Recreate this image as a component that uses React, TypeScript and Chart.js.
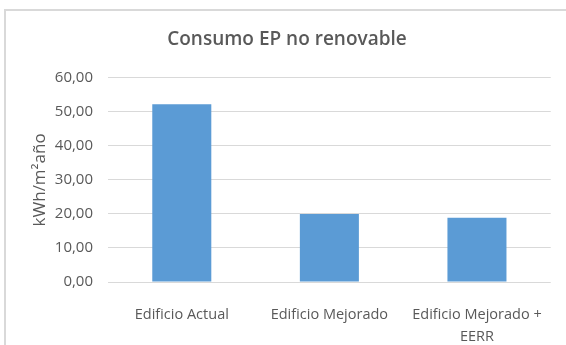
import React, { useEffect, useRef } from "react";
import { Chart, registerables } from "chart.js";

Chart.register(...registerables);

const categories: (string | string[])[] = [
  "Edificio Actual",
  "Edificio Mejorado",
  ["Edificio Mejorado +", "EERR"],
];
const consumo: number[] = [52.2, 20.0, 18.9];
const yTicks: number[] = [0, 10, 20, 30, 40, 50, 60];

const TEXT = "#595959";
const GRID = "#D9D9D9";
const BAR = "#5B9BD5";
const FONT = "'Open Sans', sans-serif";

const fmt = (v: number) => v.toFixed(2).replace(".", ",");

export default function App() {
  const ref = useRef<HTMLCanvasElement | null>(null);

  useEffect(() => {
    if (!ref.current) return;
    const chart = new Chart(ref.current, {
      type: "bar",
      data: {
        labels: categories,
        datasets: [
          {
            label: "Consumo EP no renovable",
            data: consumo,
            backgroundColor: BAR,
            borderWidth: 0,
            barPercentage: 0.5,
            categoryPercentage: 0.8,
          },
        ],
      },
      options: {
        responsive: false,
        animation: false,
        layout: { padding: { left: 22, right: 14, top: 0, bottom: 0 } },
        plugins: {
          legend: { display: false },
          tooltip: { enabled: false },
          title: {
            display: true,
            text: "Consumo EP no renovable",
            color: TEXT,
            font: { family: FONT, size: 19, weight: 600, lineHeight: 1.2 },
            padding: { top: 28, bottom: 27 },
          },
        },
        scales: {
          x: {
            grid: { display: false, drawTicks: false },
            border: { display: false },
            ticks: {
              color: TEXT,
              font: { family: FONT, size: 14.5, lineHeight: 1.5 },
              padding: 22,
              maxRotation: 0,
              autoSkip: false,
            },
            afterFit: (scale: any) => {
              scale.height = 63;
            },
          },
          y: {
            min: yTicks[0],
            max: yTicks[yTicks.length - 1],
            grid: { color: GRID, lineWidth: 1, drawTicks: false },
            border: { display: false },
            ticks: {
              stepSize: 10,
              color: TEXT,
              font: { family: FONT, size: 15 },
              padding: 15,
              callback: (v: any) => fmt(Number(v)),
            },
            title: {
              display: true,
              text: "kWh/m²año",
              color: TEXT,
              font: { family: FONT, size: 17, lineHeight: 1.2 },
              padding: { top: 8, bottom: 0 },
            },
            afterFit: (scale: any) => {
              scale.width = 86;
            },
          },
        },
      },
    });
    return () => chart.destroy();
  }, []);

  return (
    <div
      style={{
        position: "fixed",
        left: 0,
        top: 0,
        width: 566,
        height: 345,
        background: "#fff",
        overflow: "hidden",
      }}
    >
      <div
        style={{
          position: "absolute",
          left: 4,
          top: 9,
          right: -10,
          bottom: -10,
          borderTop: `2px solid ${GRID}`,
          borderLeft: `2px solid ${GRID}`,
        }}
      />
      <canvas
        ref={ref}
        width={566}
        height={345}
        style={{ position: "absolute", left: 0, top: 0, width: 566, height: 345 }}
      />
    </div>
  );
}
